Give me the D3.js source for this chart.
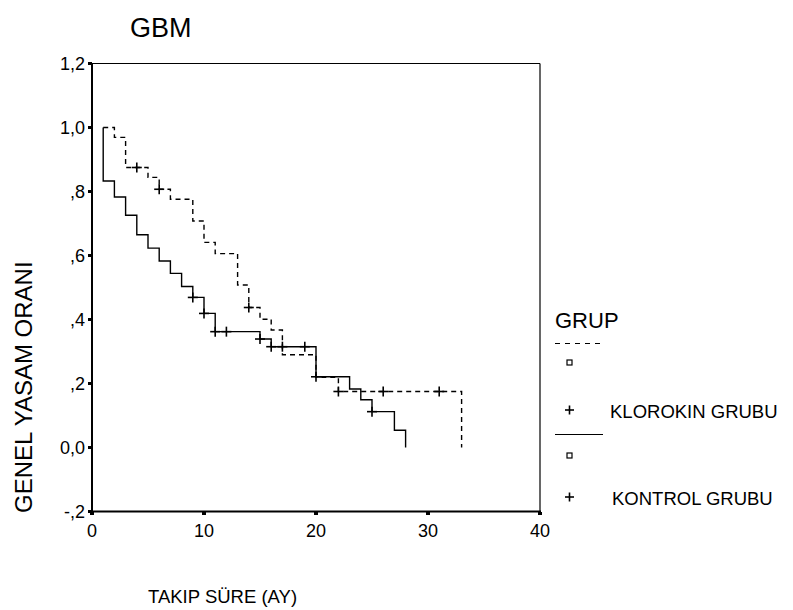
<!DOCTYPE html>
<html>
<head>
<meta charset="utf-8">
<script src="https://cdn.jsdelivr.net/npm/d3@7"></script>
<style>
  body { margin: 0; background: #fff; }
  svg { display: block; }
  text { font-family: "Liberation Sans", Arial, sans-serif; fill: #000; }
</style>
</head>
<body>
<div id="chart"></div>
<script>
// Kaplan-Meier verileri
// KLOROKIN GRUBU - kesikli çizgi
const klorokinZaman = [1, 2, 3, 5, 6, 7, 9, 10, 11, 13, 14, 15, 16, 17, 20, 22, 33];
const klorokinSag   = [1.0, 0.969, 0.875, 0.844, 0.807, 0.776, 0.708, 0.641, 0.606, 0.508, 0.4375, 0.401, 0.367, 0.29, 0.219, 0.175, 0.0];
const klorokinSansur = [4, 6, 14, 22, 26, 31];

// KONTROL GRUBU - düz çizgi
const kontrolZaman = [1, 1, 2, 3, 4, 5, 6, 7, 8, 9, 10, 11, 15, 16, 20, 23, 24, 25, 27, 28];
const kontrolSag   = [1.0, 0.833, 0.783, 0.726, 0.665, 0.623, 0.583, 0.544, 0.503, 0.469, 0.419, 0.362, 0.339, 0.315, 0.221, 0.183, 0.149, 0.112, 0.054, 0.0];
const kontrolSansur = [9, 10, 11, 12, 15, 16, 17, 19, 20, 25];

const xTicks = [0, 10, 20, 30, 40];
const yTicks = [-0.2, 0, 0.2, 0.4, 0.6, 0.8, 1.0, 1.2];
const yTickLabels = ["-,2", "0,0", ",2", ",4", ",6", ",8", "1,0", "1,2"];

const width = 793, height = 610;

const svg = d3.select("#chart").append("svg")
    .attr("width", width)
    .attr("height", height);

const x = d3.scaleLinear().domain([0, 40]).range([92, 540]);
const y = d3.scaleLinear().domain([-0.2, 1.2]).range([511.5, 63.5]);

// çerçeve
svg.append("line").attr("x1", 540).attr("x2", 540).attr("y1", 63.5).attr("y2", 511.5)
    .attr("stroke", "#000").attr("stroke-width", 1.2);
svg.append("line").attr("x1", 92).attr("x2", 540).attr("y1", 63.5).attr("y2", 63.5)
    .attr("stroke", "#000").attr("stroke-width", 1.2);
svg.append("line").attr("x1", 92).attr("x2", 92).attr("y1", 63).attr("y2", 512.5)
    .attr("stroke", "#000").attr("stroke-width", 2);
svg.append("line").attr("x1", 91).attr("x2", 541).attr("y1", 511.5).attr("y2", 511.5)
    .attr("stroke", "#000").attr("stroke-width", 2);

// y ekseni tikleri
svg.append("g").selectAll("rect")
    .data(yTicks)
    .join("rect")
    .attr("x", 88).attr("y", d => y(d) - 1.5)
    .attr("width", 4).attr("height", 3)
    .attr("fill", "#000");

svg.append("g").selectAll("text")
    .data(yTicks)
    .join("text")
    .attr("x", 85).attr("y", d => y(d) + 6)
    .attr("text-anchor", "end")
    .attr("font-size", 18)
    .text((d, i) => yTickLabels[i]);

// x ekseni tikleri
svg.append("g").selectAll("rect")
    .data(xTicks)
    .join("rect")
    .attr("x", d => x(d) - 2).attr("y", 512)
    .attr("width", 4).attr("height", 3)
    .attr("fill", "#000");

svg.append("g").selectAll("text")
    .data(xTicks)
    .join("text")
    .attr("x", d => x(d)).attr("y", 537)
    .attr("text-anchor", "middle")
    .attr("font-size", 18)
    .text(d => d);

// başlıklar
svg.append("text").attr("x", 130).attr("y", 37).attr("font-size", 27).text("GBM");
svg.append("text").attr("x", 148).attr("y", 603).attr("font-size", 18.5).text("TAKIP SÜRE (AY)");
svg.append("text")
    .attr("transform", "translate(32,513) rotate(-90)")
    .attr("font-size", 24)
    .text("GENEL YASAM ORANI");

// eğriler
const cizgi = d3.line()
    .x(d => x(d[0]))
    .y(d => y(d[1]))
    .curve(d3.curveStepAfter);

const klorokinVeri = klorokinZaman.map((t, i) => [t, klorokinSag[i]]);
const kontrolVeri = kontrolZaman.map((t, i) => [t, kontrolSag[i]]);

svg.append("path")
    .attr("d", cizgi(klorokinVeri))
    .attr("fill", "none")
    .attr("stroke", "#000")
    .attr("stroke-width", 1.4)
    .attr("stroke-dasharray", "5,4");

svg.append("path")
    .attr("d", cizgi(kontrolVeri))
    .attr("fill", "none")
    .attr("stroke", "#000")
    .attr("stroke-width", 1.4);

// sansür noktası için sağkalım değeri (basamak fonksiyonundan)
function sagkalimDegeri(veri, t) {
    let s = veri[0][1];
    for (const [ti, si] of veri) {
        if (ti <= t) s = si;
    }
    return s;
}

function arti(g, cx, cy, r) {
    g.append("line").attr("x1", cx - r).attr("x2", cx + r).attr("y1", cy).attr("y2", cy)
        .attr("stroke", "#000").attr("stroke-width", 1.6);
    g.append("line").attr("x1", cx).attr("x2", cx).attr("y1", cy - r).attr("y2", cy + r)
        .attr("stroke", "#000").attr("stroke-width", 1.6);
}

const sansurG = svg.append("g");
klorokinSansur.forEach(t => arti(sansurG, x(t), y(sagkalimDegeri(klorokinVeri, t)), 5));
kontrolSansur.forEach(t => arti(sansurG, x(t), y(sagkalimDegeri(kontrolVeri, t)), 5));

// lejant
const lej = svg.append("g");
lej.append("text").attr("x", 555).attr("y", 328).attr("font-size", 22).text("GRUP");
lej.append("line").attr("x1", 555).attr("x2", 601).attr("y1", 343.5).attr("y2", 343.5)
    .attr("stroke", "#000").attr("stroke-width", 1.2).attr("stroke-dasharray", "5,5");
lej.append("rect").attr("x", 567).attr("y", 360).attr("width", 5).attr("height", 5)
    .attr("fill", "none").attr("stroke", "#000").attr("stroke-width", 1.2);
arti(lej, 569.5, 410, 4.5);
lej.append("text").attr("x", 610).attr("y", 418).attr("font-size", 18.5).text("KLOROKIN GRUBU");

lej.append("line").attr("x1", 555).attr("x2", 603).attr("y1", 434.5).attr("y2", 434.5)
    .attr("stroke", "#000").attr("stroke-width", 1.2);
lej.append("rect").attr("x", 567).attr("y", 453).attr("width", 5).attr("height", 5)
    .attr("fill", "none").attr("stroke", "#000").attr("stroke-width", 1.2);
arti(lej, 569.5, 497, 4.5);
lej.append("text").attr("x", 612).attr("y", 505).attr("font-size", 18.5).text("KONTROL GRUBU");
</script>
</body>
</html>
